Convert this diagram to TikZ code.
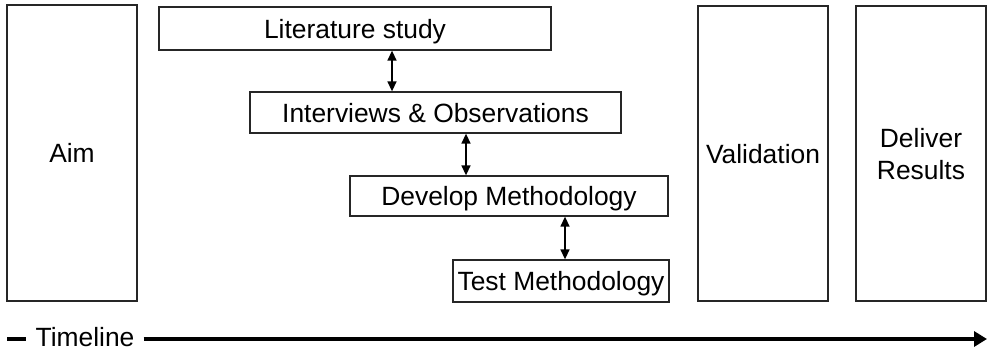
\documentclass[tikz,border=0pt]{standalone}
\usepackage{fontspec}
\setmainfont{Liberation Sans}
\usetikzlibrary{arrows.meta}
\begin{document}
\begin{tikzpicture}[x=1pt,y=-1pt,
  every node/.style={font=\fontsize{26.4}{32}\selectfont},
  box/.style={draw=black!85, line width=1.3pt, rectangle, inner sep=0pt, align=center, text depth=0pt},
  link/.style={line width=1.4pt, {Triangle[width=9pt,length=10pt]}-{Triangle[width=9pt,length=10pt]}},
  timeline/.style={line width=4.6pt}]
\useasboundingbox (0,0) rectangle (988,353);

% phase columns
\node[box, minimum width=130, minimum height=296] (aim) at (72,153) {Aim};
\node[box, minimum width=130, minimum height=295] (val) at (763,153.5) {Validation};
\node[box, minimum width=130, minimum height=295] (del) at (921,153.5) {Deliver\\Results};

% research steps
\node[box, minimum width=392, minimum height=43] (lit) at (355,28.5) {Literature study};
\node[box, minimum width=371, minimum height=41] (int) at (435.5,112.5) {Interviews \& Observations};
\node[box, minimum width=318, minimum height=40] (dev) at (509,196) {Develop Methodology};
\node[box, minimum width=216, minimum height=42] (test) at (561,281) {Test Methodology};

% two-way links between steps
\draw[link] ([xshift=37pt]lit.south) -- ([xshift=37pt]lit.south |- int.north);
\draw[link] ([xshift=30.5pt]int.south) -- ([xshift=30.5pt]int.south |- dev.north);
\draw[link] ([xshift=56pt]dev.south) -- ([xshift=56pt]dev.south |- test.north);

% timeline
\node[inner xsep=9pt, inner ysep=0pt] (tl) at (85,337) {Timeline};
\coordinate (tstart) at (7,339);
\coordinate (tend) at (987,339);
\draw[timeline] (tstart) -- (tstart -| tl.west);
\draw[timeline, -{Triangle[width=15pt,length=13pt]}] (tend -| tl.east) -- (tend);
\end{tikzpicture}
\end{document}
